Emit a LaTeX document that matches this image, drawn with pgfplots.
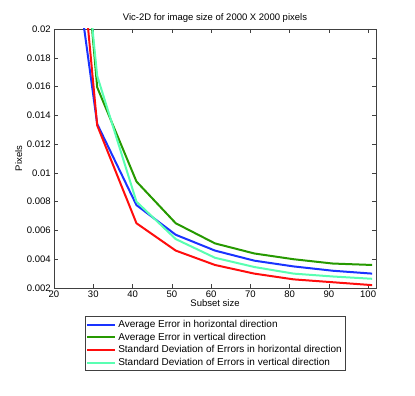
\documentclass[border=0pt]{standalone}
\usepackage{fontspec}
\setmainfont{Liberation Sans}
\usepackage{pgfplots}
\pgfplotsset{compat=1.18}

\definecolor{mblue}{rgb}{0.1,0.2,1}
\definecolor{mgreen}{rgb}{0.15,0.6,0}
\definecolor{mred}{rgb}{1,0.05,0.05}
\definecolor{mcyan}{rgb}{0.35,1,0.7}

\begin{document}
\fontsize{9.5}{11}\selectfont
\begin{tikzpicture}[x=1pt,y=1pt]
\begin{axis}[
  name=ax,
  at={(0,0)}, anchor=south west,
  scale only axis,
  width=322pt, height=259pt,
  xmin=20, xmax=102, ymin=0.002, ymax=0.02,
  xtick={20,30,...,100},
  ytick={0.002,0.004,...,0.0201},
  scaled y ticks=false,
  yticklabel style={/pgf/number format/fixed,/pgf/number format/precision=3},
  /pgf/number format/assume math mode=true,
  tick align=inside, tick pos=both,
  major tick length=4pt,
  axis line style={black!75},
  every tick/.style={black!75},
  tick label style={font=\fontsize{9.5}{11}\selectfont},
  title={Vic-2D for image size of 2000 X 2000 pixels},
  title style={font=\fontsize{9.5}{11}\selectfont, yshift=-3pt},
  xlabel={Subset size}, ylabel={Pixels},
  label style={font=\fontsize{9.5}{11}\selectfont},
  xlabel style={yshift=5pt},
  ylabel style={yshift=-2pt},
  legend style={at={(0.5,-0.11)}, anchor=north, draw=black!75,
    font=\fontsize{10}{11}\selectfont, cells={anchor=west},
    row sep=0pt, inner sep=1.5pt},
  legend image code/.code={\draw[#1, line width=2pt] (0pt,0pt) -- (28pt,0pt);},
]
\addplot[mblue, line width=2pt] coordinates {
  (21,0.0334) (31,0.0134) (41,0.00776) (51,0.0057) (61,0.0046)
  (71,0.0039) (81,0.0035) (91,0.0032) (101,0.0030)};
\addlegendentry{Average Error in horizontal direction}
\addplot[mgreen, line width=2pt] coordinates {
  (21,0.0471) (31,0.01595) (41,0.0094) (51,0.0065) (61,0.0051)
  (71,0.0044) (81,0.0040) (91,0.0037) (101,0.0036)};
\addlegendentry{Average Error in vertical direction}
\addplot[mred, line width=2pt] coordinates {
  (21,0.0424) (31,0.0133) (41,0.0065) (51,0.0046) (61,0.0036)
  (71,0.0030) (81,0.0026) (91,0.0024) (101,0.0022)};
\addlegendentry{Standard Deviation of Errors in horizontal direction}
\addplot[mcyan, line width=2pt] coordinates {
  (21,0.0439) (31,0.01674) (41,0.0080) (51,0.0054) (61,0.0041)
  (71,0.00346) (81,0.0030) (91,0.0028) (101,0.00264)};
\addlegendentry{Standard Deviation of Errors in vertical direction}
\end{axis}
\path (-54,-108) rectangle (361,288);
\end{tikzpicture}
\end{document}
